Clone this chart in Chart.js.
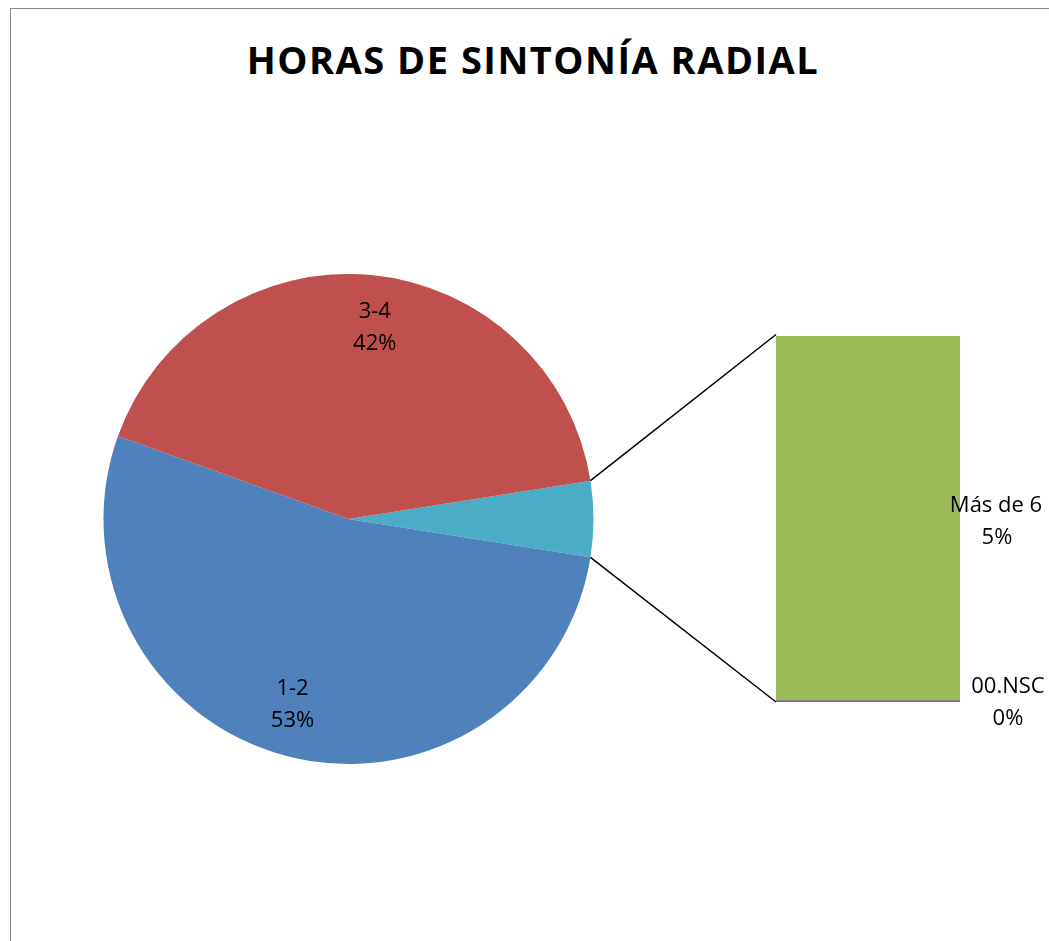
<!DOCTYPE html>
<html>
<head>
<meta charset="utf-8">
<script src="https://cdn.jsdelivr.net/npm/chart.js@4/dist/chart.umd.min.js"></script>
<style>
  html, body { margin: 0; padding: 0; background: #fff; }
  #wrap { position: relative; width: 1049px; height: 941px; overflow: hidden; }
  #frame { position: absolute; left: 10px; top: 8px; width: 1100px; height: 1000px; border: 1px solid #8a8a8a; box-sizing: border-box; }
  #title { position: absolute; left: 0; width: 1066px; top: 33px; text-align: center;
           font-family: "Open Sans", sans-serif; font-weight: bold; font-size: 38px; color: #000; letter-spacing: 1.5px; line-height: 52px; }
  canvas.full { position: absolute; left: 0; top: 0; }
</style>
</head>
<body>
<div id="wrap">
  <div id="frame"></div>
  <div id="title">HORAS DE SINTONÍA RADIAL</div>
  <canvas id="pie" class="full" width="1049" height="941"></canvas>
  <canvas id="bar" class="full" width="1049" height="941"></canvas>
</div>
<script>
// ---- data ----
const pieLabels = ['Otros', '1-2', '3-4'];
const pieValues = [5, 53, 42];
const piePercents = ['5%', '53%', '42%'];
const pieColors = ['#4BACC6', '#4F81BD', '#C0504D'];

const barCategory = ['Otros'];
const barSeriesNames = ['00.NSC', 'Más de 6'];
const barNscValues = [0];
const barMas6Values = [5];
const barPercents = ['0%', '5%'];
const barColors = ['#8064A2', '#9BBB59'];

const FONT = '"Open Sans", sans-serif';

// ---- pie labels plugin ----
const pieLabelPlugin = {
  id: 'pieLabels',
  afterDatasetsDraw(chart) {
    const ctx = chart.ctx;
    const meta = chart.getDatasetMeta(0);
    ctx.save();
    ctx.font = '22px ' + FONT;
    ctx.fillStyle = '#000';
    ctx.textAlign = 'center';
    ctx.textBaseline = 'middle';
    meta.data.forEach((arc, i) => {
      if (i === 0) return; // the "Otros" slice is explained by the bar
      const mid = (arc.startAngle + arc.endAngle) / 2 + 0.042;
      const r = arc.outerRadius * 0.79;
      const x = arc.x + Math.cos(mid) * r;
      const y = arc.y + Math.sin(mid) * r;
      ctx.fillText(pieLabels[i], x, y - 16);
      ctx.fillText(piePercents[i], x, y + 16);
    });
    ctx.restore();
  }
};

const pieChart = new Chart(document.getElementById('pie'), {
  type: 'pie',
  data: {
    labels: pieLabels,
    datasets: [{ data: pieValues, backgroundColor: pieColors, borderWidth: 0 }]
  },
  options: {
    responsive: false,
    animation: false,
    rotation: 81,
    layout: { padding: { left: 103.5, top: 274, right: 455.5, bottom: 177 } },
    plugins: { legend: { display: false }, tooltip: { enabled: false }, title: { display: false } }
  },
  plugins: [pieLabelPlugin]
});

// ---- bar labels + connector lines plugin ----
const barExtrasPlugin = {
  id: 'barExtras',
  afterDatasetsDraw(chart) {
    const ctx = chart.ctx;
    const nsc = chart.getDatasetMeta(0).data[0];
    const mas = chart.getDatasetMeta(1).data[0];
    const left = mas.x - mas.width / 2;
    const right = mas.x + mas.width / 2;
    const top = mas.y;
    const bottom = chart.scales.y.getPixelForValue(0);

    // connector lines from the "Otros" slice edges to the bar
    const arc = pieChart.getDatasetMeta(0).data[0];
    const p1x = arc.x + Math.cos(arc.startAngle) * arc.outerRadius;
    const p1y = arc.y + Math.sin(arc.startAngle) * arc.outerRadius;
    const p2x = arc.x + Math.cos(arc.endAngle) * arc.outerRadius;
    const p2y = arc.y + Math.sin(arc.endAngle) * arc.outerRadius;
    ctx.save();
    ctx.strokeStyle = '#000';
    ctx.lineWidth = 1.5;
    ctx.beginPath();
    ctx.moveTo(p1x, p1y); ctx.lineTo(left, top);
    ctx.moveTo(p2x, p2y); ctx.lineTo(left, bottom);
    ctx.stroke();

    ctx.font = '22px ' + FONT;
    ctx.fillStyle = '#000';
    ctx.textAlign = 'center';
    ctx.textBaseline = 'middle';
    // Más de 6
    const mY = (top + bottom) / 2 + 3;
    ctx.fillText(barSeriesNames[1], right + 36, mY - 16);
    ctx.fillText(barPercents[1], right + 37, mY + 16);
    // 00.NSC
    const nY = nsc.y + 2;
    ctx.fillText(barSeriesNames[0], right + 48, nY - 16);
    ctx.fillText(barPercents[0], right + 48, nY + 16);
    ctx.restore();
  }
};

new Chart(document.getElementById('bar'), {
  type: 'bar',
  data: {
    labels: barCategory,
    datasets: [
      { label: barSeriesNames[0], data: barNscValues, backgroundColor: barColors[0], minBarLength: 1.5, borderWidth: 0 },
      { label: barSeriesNames[1], data: barMas6Values, backgroundColor: barColors[1], borderWidth: 0 }
    ]
  },
  options: {
    responsive: false,
    animation: false,
    layout: { padding: { left: 776, top: 336, right: 89, bottom: 239 } },
    scales: {
      x: { display: false, stacked: true },
      y: { display: false, stacked: true, min: 0, max: 5 }
    },
    datasets: { bar: { categoryPercentage: 1, barPercentage: 1 } },
    plugins: { legend: { display: false }, tooltip: { enabled: false }, title: { display: false } }
  },
  plugins: [barExtrasPlugin]
});
</script>
</body>
</html>
